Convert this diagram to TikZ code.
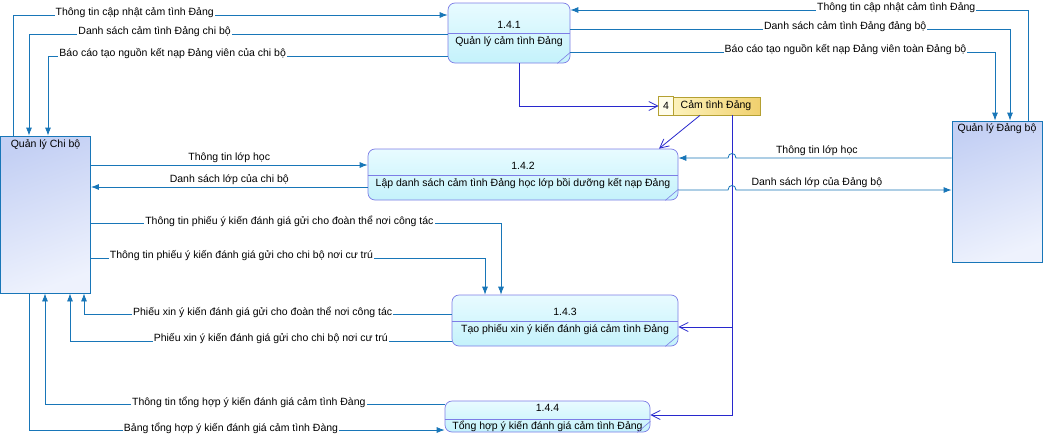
\documentclass[tikz,border=0pt]{standalone}
\usepackage{fontspec}
\setmainfont{Liberation Sans}
\usetikzlibrary{arrows.meta}
\definecolor{flowblue}{RGB}{24,118,184}
\definecolor{storeblue}{RGB}{40,40,205}
\definecolor{procline}{RGB}{125,125,230}
\definecolor{proctop}{RGB}{232,251,255}
\definecolor{procbot}{RGB}{196,242,251}
\definecolor{entitytop}{RGB}{196,208,244}
\definecolor{entitybot}{RGB}{238,242,253}
\definecolor{storeline}{RGB}{180,160,50}
\definecolor{storetop}{RGB}{255,248,200}
\definecolor{storebot}{RGB}{240,208,110}
\definecolor{storecell}{RGB}{255,253,235}
\tikzstyle{entity} =
        [
                rectangle,
                draw = flowblue,
                top color = entitytop,
                bottom color = entitybot,
                shading angle = 20,
                line width = 0.8pt,
                inner sep = 0pt
        ]
\tikzstyle{process} =
        [
                rectangle,
                draw = procline,
                top color = proctop,
                bottom color = procbot,
                rounded corners = 7pt,
                line width = 0.7pt,
                inner sep = 0pt
        ]
\tikzstyle{store} =
        [
                rectangle,
                draw = storeline,
                left color = storetop,
                right color = storebot,
                line width = 0.7pt,
                inner sep = 0pt
        ]
\tikzstyle{pline} =
        [
                draw = procline,
                line width = 0.6pt
        ]
\tikzstyle{flow} =
        [
                draw = flowblue,
                line width = 0.8pt,
                -{Latex[length=8pt,width=6pt]}
        ]
\tikzstyle{sflow} =
        [
                draw = storeblue,
                line width = 0.8pt,
                -{Straight Barb[length=9pt,width=9pt]}
        ]
\tikzstyle{flab} =
        [
                fill = white,
                inner sep = 1pt,
                yshift = 2pt
        ]
\tikzstyle{alab} =
        [
                above = 1pt,
                inner sep = 1pt
        ]

\begin{document}
\begin{tikzpicture}[x=1pt, y=-1pt, font=\fontsize{10.5}{12}\selectfont]
    \useasboundingbox (0,0) rectangle (1043,439);
    \fill[white] (0,0) rectangle (1043,439);
    % external entities
    \node [entity, minimum width=90, minimum height=157] (cb) at (45.5,214.5) {};
    \node [inner sep=0pt] at (cb.north |- 0,145) {Quản lý Chi bộ};
    \node [entity, minimum width=90, minimum height=141] (db) at (997,191.5) {};
    \node [inner sep=0pt] at (db.north |- 0,129) {Quản lý Đảng bộ};
    % processes
    \node [process, minimum width=122, minimum height=60] (p141) at (509,33) {};
    \draw [pline] (p141.west |- 0,33) -- (p141.east |- 0,33);
    \node at (p141.center |- 0,25) {1.4.1};
    \node at (p141.center |- 0,42) {Quản lý cảm tình Đảng};
    \node [process, minimum width=310, minimum height=51] (p142) at (523,174.5) {};
    \draw [pline] (p142.west |- 0,175) -- (p142.east |- 0,175);
    \node at (p142.center |- 0,166) {1.4.2};
    \node at (p142.center |- 0,184) {Lập danh sách cảm tình Đảng học lớp bồi dưỡng kết nạp Đảng};
    \node [process, minimum width=226, minimum height=51] (p143) at (565,320.5) {};
    \draw [pline] (p143.west |- 0,321) -- (p143.east |- 0,321);
    \node at (p143.center |- 0,312) {1.4.3};
    \node at (p143.center |- 0,330) {Tạo phiếu xin ý kiến đánh giá cảm tình Đảng};
    \node [process, minimum width=205, minimum height=31] (p144) at (547.5,416.5) {};
    \draw [pline] (p144.west |- 0,419) -- (p144.east |- 0,419);
    \node at (p144.center |- 0,408) {1.4.4};
    \node at (p144.center |- 0,426) {Tổng hợp ý kiến đánh giá cảm tình Đảng};
    \foreach \p in {p141,p142,p143,p144}
        \draw [pline] ([xshift=-13]\p.south east) -- ([yshift=11]\p.south east);
    % data store
    \node [store, minimum width=101, minimum height=18] (st) at (709.5,106) {};
    \filldraw [fill=storecell, draw=storeline, line width=0.7pt] (st.north west) rectangle (st.south -| 673,0);
    \node at (st.west -| 666,0) {4};
    \node at (st.center -| 716,0) {Cảm tình Đảng};
    % flows Chi bo - 1.4.1
    \path [flow] (cb.north -| 13,0) |- node [flab, pos=.64] {Thông tin cập nhật cảm tình Đảng} (p141.west |- 0,15);
    \path [flow] (p141.west |- 0,34) -| node [flab, pos=.35] {Danh sách cảm tình Đảng chi bộ} (cb.north -| 29,0);
    \path [flow] (p141.west |- 0,56) -| node [flab, pos=.344] {Báo cáo tạo nguồn kết nạp Đảng viên của chi bộ} (cb.north -| 48,0);
    % flows Dang bo - 1.4.1
    \path [flow] (db.north -| 1028,0) |- node [flab, pos=.644] {Thông tin cập nhật cảm tình Đảng} (p141.east |- 0,10);
    \path [flow] (p141.east |- 0,29) -| node [flab, pos=.3125] {Danh sách cảm tình Đảng đảng bộ} (db.north -| 1010,0);
    \path [flow] (p141.east |- 0,52) -| node [flab, pos=.324] {Báo cáo tạo nguồn kết nạp Đảng viên toàn Đảng bộ} (db.north -| 995,0);
    % flows with the store
    \path [sflow] (p141.south -| 519,0) |- (st.west);
    \path [sflow] (st.south -| 700,0) -- (p142.north -| 659,0);
    \path [sflow] (st.south -| 732,0) |- (p143.east |- 0,327);
    \path [sflow] (st.south -| 732,0) |- (p144.east |- 0,415);
    % flows with 1.4.2
    \path [flow] (cb.east |- 0,165) -- node [alab] {Thông tin lớp học} (p142.west |- 0,165);
    \path [flow] (p142.west |- 0,187) -- node [alab] {Danh sách lớp của chi bộ} (cb.east |- 0,187);
    \path [flow] (db.west |- 0,158) -- node [alab, pos=.625] {Thông tin lớp học} (736,158)
        .. controls (736,152) and (728,152) .. (728,158) -- (p142.east |- 0,158);
    \path [flow] (p142.east |- 0,190) -- (728,190) .. controls (728,184) and (736,184) .. (736,190)
        -- node [alab, pos=.375] {Danh sách lớp của Đảng bộ} (db.west |- 0,190);
    % flows with 1.4.3
    \path [flow] (cb.east |- 0,223) -| node [flab, pos=.242] {Thông tin phiếu ý kiến đánh giá gửi cho đoàn thể nơi công tác} (p143.north -| 501,0);
    \path [flow] (cb.east |- 0,258) -| node [flab, pos=.191] {Thông tin phiếu ý kiến đánh giá gửi cho chi bộ nơi cư trú} (p143.north -| 485,0);
    \path [flow] (p143.west |- 0,314) -| node [flab, pos=.257] {Phiếu xin ý kiến đánh giá gửi cho đoàn thể nơi công tác} (cb.south -| 84,0);
    \path [flow] (p143.west |- 0,341) -| node [flab, pos=.237] {Phiếu xin ý kiến đánh giá gửi cho chi bộ nơi cư trú} (cb.south -| 70,0);
    % flows with 1.4.4
    \path [flow] (p144.west |- 0,404) -| node [flab, pos=.245] {Thông tin tổng hợp ý kiến đánh giá cảm tình Đàng} (cb.south -| 45,0);
    \path [flow] (cb.south -| 29,0) |- node [flab, pos=.743] {Bảng tổng hợp ý kiến đánh giá cảm tình Đàng} (p144.west |- 0,430);
\end{tikzpicture}
\end{document}
